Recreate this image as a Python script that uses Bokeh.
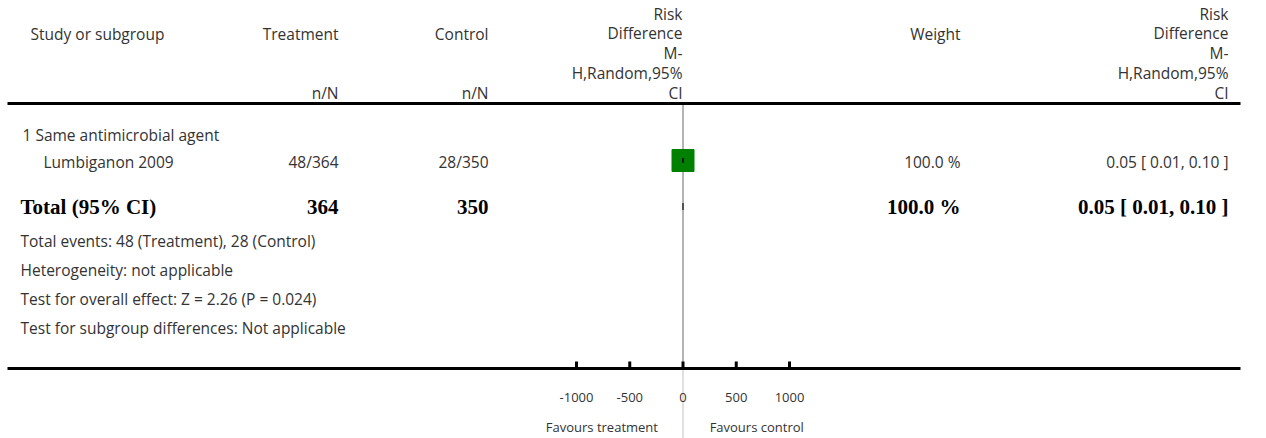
from bokeh.plotting import figure
from bokeh.models import Range1d
from bokeh.core.properties import value
from bokeh.embed import file_html
from bokeh.resources import INLINE

# ---------------- data ----------------
col_headers = ["Study or subgroup", "Treatment", "Control", "Weight"]
nN_label = "n/N"
rd_header = ["Risk", "Difference", "M-", "H,Random,95%", "CI"]
subgroup = "1 Same antimicrobial agent"
studies = ["Lumbiganon 2009"]
treat_nN = ["48/364"]
ctrl_nN = ["28/350"]
rd_est = [0.05]
rd_lo = [0.01]
rd_hi = [0.10]
weights = [100.0]
total_label = "Total (95% CI)"
total_treat = 364
total_ctrl = 350
total_weight = 100.0
total_est, total_lo, total_hi = 0.05, 0.01, 0.10
footer_lines = [
    "Total events: 48 (Treatment), 28 (Control)",
    "Heterogeneity: not applicable",
    "Test for overall effect: Z = 2.26 (P = 0.024)",
    "Test for subgroup differences: Not applicable",
]
ticks = [-1000, -500, 0, 500, 1000]
tick_labels = ["-1000", "-500", "0", "500", "1000"]
favours_left = "Favours treatment"
favours_right = "Favours control"

# ---------------- layout ----------------
W, H = 1266, 438
ZERO_PX = 682.5
PX_PER_UNIT = 0.1065

p = figure(width=W, height=H, output_backend="svg", toolbar_location=None,
           x_range=Range1d(0, W), y_range=Range1d(H, 0),
           x_axis_type=None, y_axis_type=None, min_border=0,
           background_fill_color="white", border_fill_color="white")
p.outline_line_color = None
p.grid.visible = False
p.extra_x_ranges = {"rd": Range1d(-ZERO_PX / PX_PER_UNIT, (W - ZERO_PX) / PX_PER_UNIT)}

SANS = value("Open Sans")
SERIF = value("Liberation Serif")
TXT = "#333333"
FS = "15.5px"
BFS = "21px"

def txt(x, y, s, align="left", font=SANS, size=FS, style="normal", color=TXT, rng="default"):
    p.text(x=[x], y=[y], text=[s], text_align=align, text_baseline="middle",
           text_font=font, text_font_size=size, text_font_style=style,
           text_color=color, x_range_name=rng)

# column anchors
X_STUDY = 30
X_TREAT = 338
X_CTRL = 488
X_RDHDR = 682
X_WEIGHT = 960
X_RDCOL = 1228

# headers
txt(X_STUDY, 33, col_headers[0])
txt(X_TREAT, 33, col_headers[1], "right")
txt(X_CTRL, 33, col_headers[2], "right")
txt(X_WEIGHT, 33, col_headers[3], "right")
txt(X_TREAT, 92, nN_label, "right")
txt(X_CTRL, 92, nN_label, "right")
for i, s in enumerate(rd_header):
    yy = 13 + i * 19.8
    txt(X_RDHDR, yy, s, "right")
    txt(X_RDCOL, yy, s, "right")

# horizontal rules
p.segment(x0=[7], x1=[1240], y0=[103], y1=[103], line_color="black", line_width=3)
p.segment(x0=[7], x1=[1240], y0=[368], y1=[368], line_color="black", line_width=3)

# zero line
p.segment(x0=[0], x1=[0], y0=[104.5], y1=[367], line_color="#b4b4b4", line_width=2, x_range_name="rd")
p.segment(x0=[0], x1=[0], y0=[369.5], y1=[438], line_color="#e0e0e0", line_width=2, x_range_name="rd")

# subgroup
txt(22, 134, subgroup)

# studies
for i, name in enumerate(studies):
    yy = 161
    txt(43, yy, name)
    txt(X_TREAT, yy, treat_nN[i], "right")
    txt(X_CTRL, yy, ctrl_nN[i], "right")
    txt(X_WEIGHT, yy, f"{weights[i]:.1f} %", "right")
    txt(X_RDCOL, yy, f"{rd_est[i]:.2f} [ {rd_lo[i]:.2f}, {rd_hi[i]:.2f} ]", "right")
    p.scatter(x=[rd_est[i]], y=[yy - 1], marker="square", size=22 * (weights[i] / 100.0) ** 0.5,
              fill_color="#008000", line_color="#008000", x_range_name="rd")
    p.segment(x0=[rd_lo[i]], x1=[rd_hi[i]], y0=[yy - 1], y1=[yy - 1], line_color="black",
              line_width=1, x_range_name="rd")
    p.segment(x0=[rd_lo[i], rd_hi[i]], x1=[rd_lo[i], rd_hi[i]], y0=[yy - 3.5] * 2, y1=[yy + 1.5] * 2,
              line_color="#111111", line_width=1.5, x_range_name="rd")

# total
TY = 206
txt(20, TY, total_label, font=SERIF, size=BFS, style="bold", color="black")
txt(X_TREAT, TY, str(total_treat), "right", font=SERIF, size=BFS, style="bold", color="black")
txt(X_CTRL, TY, str(total_ctrl), "right", font=SERIF, size=BFS, style="bold", color="black")
txt(X_WEIGHT, TY, f"{total_weight:.1f} %", "right", font=SERIF, size=BFS, style="bold", color="black")
txt(X_RDCOL, TY, f"{total_est:.2f} [ {total_lo:.2f}, {total_hi:.2f} ]", "right", font=SERIF,
    size=BFS, style="bold", color="black")
p.patch(x=[total_lo, total_est, total_hi, total_est], y=[TY, TY - 3.5, TY, TY + 3.5],
        fill_color="black", line_color="#333333", line_width=1.5, x_range_name="rd")

# footer
for i, s in enumerate(footer_lines):
    txt(20, 240 + i * 29.3, s)

# ticks
p.segment(x0=ticks, x1=ticks, y0=[368] * len(ticks), y1=[361] * len(ticks), line_color="black",
          line_width=3, x_range_name="rd")
p.text(x=ticks, y=[397] * len(ticks), text=tick_labels, text_align="center", text_baseline="middle",
       text_font=SANS, text_font_size="13px", text_color=TXT, x_range_name="rd")
txt(-235, 426, favours_left, "right", size="13px", rng="rd")
txt(250, 426, favours_right, "left", size="13px", rng="rd")

open("out.html", "w").write(file_html(p, INLINE))
